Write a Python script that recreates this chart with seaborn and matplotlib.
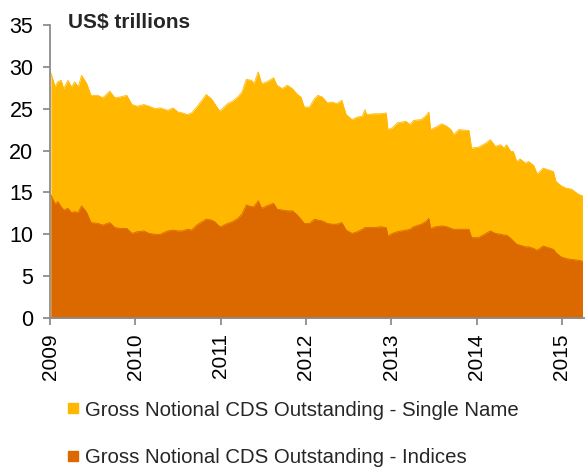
import matplotlib
matplotlib.use("Agg")
import matplotlib.pyplot as plt
from matplotlib.lines import Line2D
import numpy as np
import seaborn as sns

# data (decimal years, US$ trillions)
years = [2009.01, 2009.06, 2009.09, 2009.13, 2009.16, 2009.21, 2009.25, 2009.29, 2009.33, 2009.37,
         2009.43, 2009.48, 2009.56, 2009.62, 2009.70, 2009.76, 2009.82, 2009.90, 2009.96, 2010.02,
         2010.10, 2010.16, 2010.23, 2010.29, 2010.38, 2010.44, 2010.50, 2010.55, 2010.61, 2010.66,
         2010.72, 2010.78, 2010.83, 2010.89, 2010.93, 2010.99, 2011.02, 2011.08, 2011.14, 2011.20,
         2011.25, 2011.30, 2011.36, 2011.39, 2011.44, 2011.48, 2011.54, 2011.62, 2011.66, 2011.72,
         2011.78, 2011.84, 2011.90, 2011.94, 2011.98, 2012.04, 2012.10, 2012.14, 2012.19, 2012.25,
         2012.31, 2012.36, 2012.42, 2012.47, 2012.54, 2012.60, 2012.66, 2012.69, 2012.71, 2012.80,
         2012.88, 2012.94, 2012.96, 2013.01, 2013.07, 2013.17, 2013.22, 2013.26, 2013.35, 2013.40,
         2013.44, 2013.46, 2013.52, 2013.59, 2013.65, 2013.70, 2013.73, 2013.79, 2013.91, 2013.94,
         2014.02, 2014.11, 2014.16, 2014.22, 2014.28, 2014.32, 2014.35, 2014.40, 2014.43, 2014.47,
         2014.51, 2014.57, 2014.61, 2014.67, 2014.71, 2014.78, 2014.84, 2014.90, 2014.93, 2014.99,
         2015.05, 2015.11, 2015.19, 2015.24]

# top of the yellow area (single name stacked on indices)
total = [29.3, 27.6, 28.2, 28.4, 27.4, 28.4, 27.6, 28.2, 27.6, 29.0,
         28.0, 26.6, 26.6, 26.3, 27.1, 26.3, 26.4, 26.6, 25.5, 25.3,
         25.5, 25.3, 25.0, 25.1, 24.8, 25.1, 24.6, 24.5, 24.3, 24.5,
         25.2, 26.0, 26.7, 26.2, 25.6, 24.7, 25.0, 25.6, 25.9, 26.4,
         27.0, 28.5, 28.4, 28.0, 29.4, 28.0, 28.2, 28.7, 27.8, 27.4,
         27.8, 27.4, 26.7, 26.4, 25.2, 25.2, 26.2, 26.6, 26.4, 25.7,
         25.8, 25.6, 26.0, 24.3, 23.7, 24.0, 24.1, 24.9, 24.3, 24.4,
         24.4, 24.5, 22.5, 22.7, 23.3, 23.5, 23.1, 23.6, 23.7, 24.1,
         24.6, 22.5, 22.8, 23.2, 22.9, 22.5, 21.9, 22.5, 22.4, 20.3,
         20.4, 20.9, 21.3, 20.5, 20.7, 20.3, 20.7, 19.9, 19.9, 18.7,
         19.0, 18.5, 18.7, 18.2, 17.2, 17.9, 17.7, 17.5, 16.3, 15.8,
         15.5, 15.4, 14.8, 14.6]

indices = [14.7, 13.6, 13.9, 13.3, 12.9, 13.1, 12.6, 12.7, 12.6, 13.4,
           12.6, 11.4, 11.3, 11.1, 11.4, 10.8, 10.7, 10.7, 10.1, 10.3,
           10.4, 10.1, 10.0, 10.0, 10.4, 10.5, 10.4, 10.4, 10.6, 10.5,
           11.1, 11.5, 11.8, 11.7, 11.5, 10.9, 11.0, 11.3, 11.5, 11.9,
           12.4, 13.5, 13.3, 13.3, 14.0, 13.1, 13.4, 13.7, 13.0, 12.9,
           12.8, 12.8, 12.3, 11.8, 11.3, 11.3, 11.8, 11.7, 11.6, 11.3,
           11.2, 11.2, 11.4, 10.5, 10.1, 10.3, 10.6, 10.8, 10.8, 10.8,
           10.9, 10.8, 9.8, 10.1, 10.3, 10.5, 10.6, 10.9, 11.2, 11.5,
           11.9, 10.7, 10.9, 11.0, 10.9, 10.7, 10.6, 10.6, 10.6, 9.6,
           9.6, 10.1, 10.4, 10.1, 10.0, 9.9, 9.9, 9.5, 9.2, 8.8,
           8.7, 8.5, 8.5, 8.3, 8.1, 8.6, 8.4, 8.2, 7.8, 7.3,
           7.1, 7.0, 6.9, 6.8]

year_ticks = [2009, 2010, 2011, 2012, 2013, 2014, 2015]
labels = ["Gross Notional CDS Outstanding - Single Name",
          "Gross Notional CDS Outstanding - Indices"]
colors = ["#FFB700", "#DB6900"]

sns.set_theme(style="white")
plt.rcParams["font.family"] = ["Liberation Sans", "DejaVu Sans"]

fig = plt.figure(figsize=(5.85, 4.68), dpi=100)
ax = fig.add_axes([0.0855, 0.3205, 0.9145, 0.6261])

sns.lineplot(x=years, y=total, ax=ax, color=colors[0], lw=0.6)
sns.lineplot(x=years, y=indices, ax=ax, color=colors[1], lw=0.6)
ax.fill_between(years, 0, total, color=colors[0], lw=0)
ax.fill_between(years, 0, indices, color=colors[1], lw=0)

ax.set_xlim(2009, 2015.27)
ax.set_ylim(0, 35)
ax.set_yticks(range(0, 36, 5))
ax.set_xticks(year_ticks)
ax.set_xticklabels([str(y) for y in year_ticks], rotation=90)

for s in ["top", "right"]:
    ax.spines[s].set_visible(False)
for s in ["left", "bottom"]:
    ax.spines[s].set_color("#8c8c8c")
    ax.spines[s].set_linewidth(1.3)
ax.tick_params(axis="y", which="major", left=True, length=5, width=1.3, color="#8c8c8c",
               labelsize=15.5, pad=7, labelcolor="black")
ax.tick_params(axis="x", which="major", bottom=True, length=5, width=1.3, color="#8c8c8c",
               labelsize=15, pad=6, labelcolor="black")
ax.grid(False)

ax.text(0.033, 1.01, "US$ trillions", transform=ax.transAxes, fontsize=15,
        fontweight="bold", va="center", ha="left")

handles = [Line2D([], [], ls="none", marker="s", markersize=7.5, color=c) for c in colors]
fig.legend(handles, labels, loc="center left", bbox_to_anchor=(0.114, 0.073),
           frameon=False, fontsize=14.7, handlelength=0.6, handletextpad=0.3,
           labelspacing=1.4, borderpad=0, borderaxespad=0)

fig.savefig("out.png", dpi=100)
